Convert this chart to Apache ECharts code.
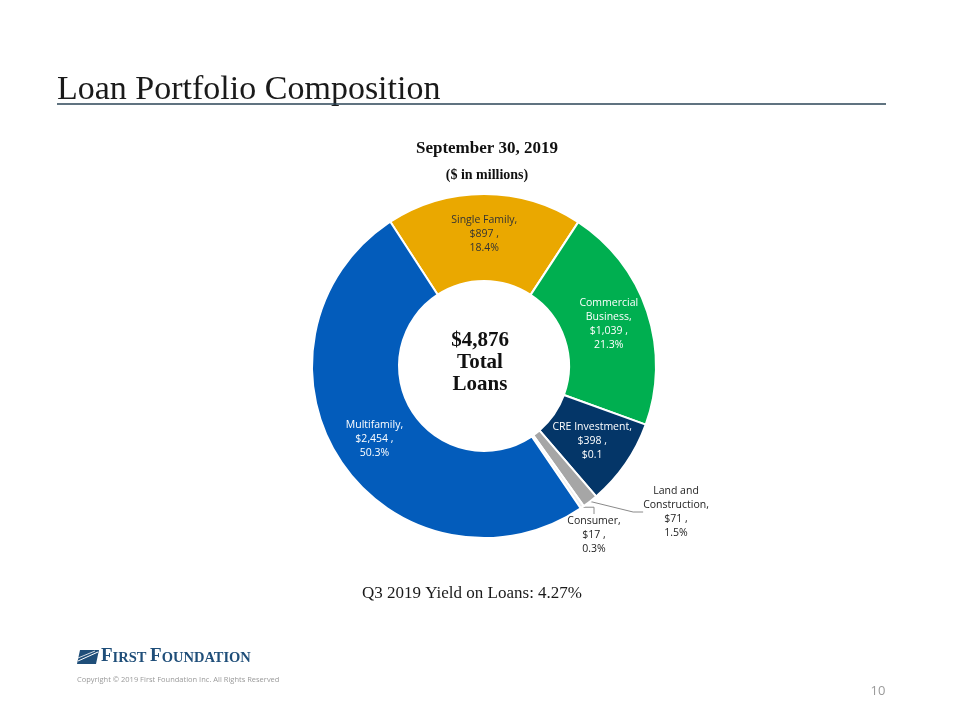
<!DOCTYPE html>
<html><head><meta charset="utf-8">
<script src="https://cdn.jsdelivr.net/npm/echarts@6/dist/echarts.min.js"></script>
<style>html,body{margin:0;padding:0;background:#fff}#c{width:960px;height:720px}</style>
</head><body><div id="c"></div>
<script>
const categories = ['Single Family','Commercial Business','CRE Investment','Land and Construction','Consumer','Multifamily'];
const amounts = [897, 1039, 398, 71, 17, 2454];
const sliceLabels = [
  'Single Family,\n$897 ,\n18.4%',
  'Commercial\nBusiness,\n$1,039 ,\n21.3%',
  'CRE Investment,\n$398 ,\n$0.1',
  'Land and\nConstruction,\n$71 ,\n1.5%',
  'Consumer,\n$17 ,\n0.3%',
  'Multifamily,\n$2,454 ,\n50.3%'
];
const sliceColors = ['#EAA800','#00AF50','#043668','#A6A6A6','#EEEEEE','#035CBB'];
const labelColors = ['#333333','#ffffff','#ffffff','#222222','#222222','#ffffff'];
const outsideIdx = [3, 4];

const chart = echarts.init(document.getElementById('c'), null, {renderer:'canvas'});
const serif = '"Liberation Serif", "DejaVu Serif", serif';
const sans = '"Open Sans", "Noto Sans", sans-serif';

const data = categories.map((name, i) => ({
  name, value: amounts[i],
  itemStyle: {color: sliceColors[i]},
  label: {
    show: true,
    position: outsideIdx.includes(i) ? 'outside' : 'inside',
    formatter: sliceLabels[i],
    color: labelColors[i],
    fontFamily: sans, fontSize: 10.5, lineHeight: 14, align: 'center'
  },
  labelLine: {show: outsideIdx.includes(i), length: 10, length2: 10,
    lineStyle: {color: '#8a8a8a', width: 1}}
}));

function txt(x, y, text, font, size, weight, color, align, extra) {
  return Object.assign({type: 'text', x: x, y: y, style: Object.assign({
    text: text, fontFamily: font, fontSize: size, fontWeight: weight, fill: color,
    align: align || 'center', verticalAlign: 'middle'}, extra || {})});
}

chart.setOption({
  backgroundColor: '#ffffff',
  animation: false,
  graphic: [
    txt(57, 90, 'Loan Portfolio Composition', serif, 34, 'normal', '#1a1a1a', 'left'),
    {type: 'line', shape: {x1: 57, y1: 104, x2: 886, y2: 104}, style: {stroke: '#2B4456', lineWidth: 1.5}},
    txt(487, 149, 'September 30, 2019', serif, 17, 'bold', '#111'),
    txt(487, 175, '($ in millions)', serif, 14, 'bold', '#111'),
    txt(480, 363, '$4,876\nTotal\nLoans', serif, 21, 'bold', '#111', 'center', {lineHeight: 22}),
    txt(472, 594, 'Q3 2019 Yield on Loans: 4.27%', serif, 17, 'normal', '#1a1a1a'),
    txt(77, 680, 'Copyright \u00A9 2019 First Foundation Inc. All Rights Reserved', sans, 7.5, 'normal', '#9a9a9a', 'left'),
    txt(878, 691, '10', sans, 13, 'normal', '#9a9a9a'),
    {type: 'polygon', shape: {points: [[80,650],[99,650],[96,664],[77,664]]}, style: {fill: '#1F4E79'}},
    {type: 'line', shape: {x1: 78, y1: 661, x2: 98, y2: 652}, style: {stroke: '#fff', lineWidth: 1}},
    {type: 'line', shape: {x1: 78, y1: 658, x2: 95, y2: 651}, style: {stroke: '#fff', lineWidth: 0.8}},
    {type: 'text', x: 101, y: 666, style: {
      text: '{b|F}{s|IRST }{b|F}{s|OUNDATION}', verticalAlign: 'bottom',
      rich: {
        b: {fontFamily: serif, fontWeight: 'bold', fontSize: 19, fill: '#1F4E79', verticalAlign: 'bottom'},
        s: {fontFamily: serif, fontWeight: 'bold', fontSize: 14.5, fill: '#1F4E79', verticalAlign: 'bottom'}
      }}}
  ],
  series: [{
    type: 'pie',
    center: [484, 366],
    radius: [85, 172],
    startAngle: 123,
    clockwise: true,
    avoidLabelOverlap: false,
    itemStyle: {borderColor: '#ffffff', borderWidth: 2},
    labelLayout: function (p) {
      if (p.dataIndex === 3) return {x: 676, y: 512, align: 'center', verticalAlign: 'middle'};
      if (p.dataIndex === 4) return {x: 594, y: 535, align: 'center', verticalAlign: 'middle'};
      return {};
    },
    data: data
  }]
});
</script></body></html>
